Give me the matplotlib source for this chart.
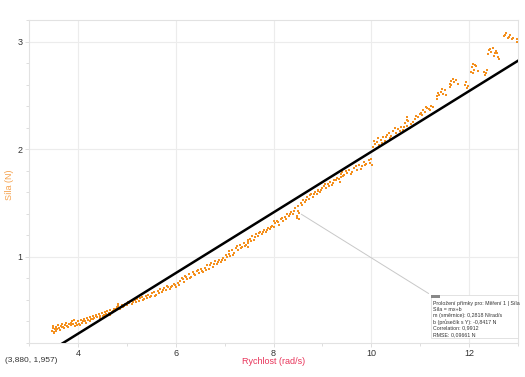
import matplotlib
matplotlib.use("Agg")
import matplotlib.pyplot as plt
from matplotlib.ticker import MultipleLocator

plt.rcParams['font.family'] = ['Liberation Sans', 'DejaVu Sans']

# ---- data ----
speed = [
    3.48, 3.49, 3.50, 3.51, 3.53, 3.56, 3.60, 3.62, 3.65, 3.68, 3.70, 3.73, 3.76, 3.78, 3.82, 3.85, 3.88, 3.91, 3.94, 3.97, 4.00, 4.03,
    4.06, 4.09, 4.12, 4.15, 4.18, 4.21, 4.24, 4.27, 4.30, 4.33, 4.36, 4.40, 4.43, 4.46, 4.50, 4.53, 4.56, 4.60, 4.63, 4.66, 4.70, 4.73, 4.76, 4.80, 4.83, 4.86, 4.90, 4.93, 4.96, 5.00,
    5.04, 5.08, 5.12, 5.16, 5.20, 5.24, 5.28, 5.32, 5.36, 5.40, 5.44, 5.48, 5.52, 5.56, 5.60, 5.64, 5.68, 5.72, 5.76, 5.80, 5.84, 5.88, 5.92, 5.96, 6.00,
    6.04, 6.08, 6.12, 6.16, 6.20, 6.24, 6.28, 6.32, 6.36, 6.40, 6.44, 6.48, 6.52, 6.56, 6.60, 6.64, 6.68, 6.72, 6.76, 6.80, 6.84, 6.88, 6.92, 6.96, 7.00,
    7.04, 7.08, 7.12, 7.16, 7.20, 7.24, 7.28, 7.32, 7.36, 7.40, 7.44, 7.48, 7.52, 7.56, 7.60, 7.64, 7.68, 7.72, 7.76, 7.80, 7.84, 7.88, 7.92, 7.96, 8.00,
    8.04, 8.08, 8.12, 8.16, 8.20, 8.24, 8.28, 8.32, 8.36, 8.40, 8.44, 8.48, 8.50, 8.51, 8.52, 8.56, 8.60, 8.64, 8.68, 8.72, 8.76, 8.80, 8.84, 8.88, 8.92, 8.96, 9.00,
    9.04, 9.08, 9.12, 9.16, 9.20, 9.24, 9.30, 9.37, 9.38, 9.39, 9.40, 9.45, 9.50, 9.55, 9.60, 9.65, 9.70, 9.75, 9.80, 9.85, 9.90, 9.95, 10.00,
    10.04, 10.08, 10.12, 10.16, 10.20, 10.24, 10.28, 10.32, 10.36, 10.40, 10.45, 10.50, 10.55, 10.60, 10.64, 10.68, 10.72, 10.73, 10.74, 10.80, 10.85, 10.90, 10.95, 11.00,
    11.02, 11.06, 11.10, 11.14, 11.18, 11.22, 11.26, 11.34, 11.36, 11.38, 11.42, 11.46, 11.50, 11.52, 11.60, 11.62, 11.64, 11.70, 11.74, 11.78, 11.92, 11.95, 11.98,
    12.04, 12.06, 12.08, 12.10, 12.14, 12.18, 12.30, 12.33, 12.36, 12.38, 12.40, 12.44, 12.48, 12.52, 12.56, 12.60, 12.62, 12.72, 12.76, 12.80, 12.84, 12.88, 12.97, 12.98,
]
force = [
    0.31, 0.34, 0.36, 0.30, 0.33, 0.35, 0.37, 0.34, 0.36, 0.38, 0.35, 0.37, 0.39, 0.36, 0.38, 0.37, 0.40, 0.38, 0.36, 0.39, 0.40, 0.38,
    0.41, 0.39, 0.42, 0.40, 0.43, 0.41, 0.44, 0.42, 0.45, 0.43, 0.46, 0.44, 0.47, 0.45, 0.48, 0.46, 0.49, 0.50, 0.48, 0.51, 0.49, 0.52, 0.50, 0.53, 0.54, 0.52, 0.55, 0.53, 0.56, 0.55,
    0.57, 0.59, 0.58, 0.60, 0.61, 0.59, 0.62, 0.63, 0.61, 0.64, 0.65, 0.63, 0.66, 0.67, 0.65, 0.68, 0.70, 0.67, 0.71, 0.69, 0.72, 0.70, 0.73, 0.75, 0.72,
    0.76, 0.78, 0.80, 0.77, 0.82, 0.79, 0.84, 0.81, 0.86, 0.83, 0.87, 0.85, 0.89, 0.86, 0.90, 0.92, 0.89, 0.94, 0.91, 0.96, 0.93, 0.97, 0.95, 0.99, 0.97,
    1.00, 1.03, 1.01, 1.06, 1.04, 1.08, 1.06, 1.11, 1.09, 1.13, 1.11, 1.15, 1.17, 1.19, 1.16, 1.21, 1.19, 1.23, 1.21, 1.25, 1.23, 1.27, 1.26, 1.29, 1.28,
    1.31, 1.33, 1.30, 1.35, 1.33, 1.37, 1.40, 1.38, 1.42, 1.40, 1.45, 1.38, 1.43, 1.47, 1.35, 1.50, 1.53, 1.51, 1.56, 1.54, 1.58, 1.56, 1.60, 1.58, 1.62, 1.60, 1.64,
    1.66, 1.64, 1.68, 1.70, 1.67, 1.71, 1.73, 1.70, 1.74, 1.77, 1.79, 1.76, 1.78, 1.81, 1.79, 1.83, 1.81, 1.85, 1.84, 1.88, 1.86, 1.90, 1.91,
    2.02, 2.05, 2.07, 2.04, 2.09, 2.11, 2.08, 2.13, 2.15, 2.12, 2.17, 2.15, 2.19, 2.21, 2.18, 2.24, 2.27, 2.30, 2.22, 2.20, 2.25, 2.28, 2.30, 2.33,
    2.34, 2.36, 2.35, 2.38, 2.37, 2.40, 2.39, 2.47, 2.52, 2.50, 2.53, 2.51, 2.55, 2.50, 2.61, 2.63, 2.60, 2.62, 2.64, 2.61, 2.60, 2.57, 2.59,
    2.72, 2.76, 2.79, 2.74, 2.77, 2.73, 2.72, 2.69, 2.74, 2.88, 2.92, 2.90, 2.94, 2.89, 2.91, 2.86, 2.84, 3.05, 3.08, 3.03, 3.06, 3.02, 3.02, 3.00,
]
# second pass of samples (the thicker part of the band)
speed_b = [
    3.52, 3.55, 3.58, 3.63, 3.67, 3.72, 3.80, 3.86, 3.92, 3.99, 4.05, 4.11, 4.17, 4.25, 4.31, 4.38, 4.45, 4.52, 4.58, 4.65,
    4.72, 4.78, 4.82, 4.88, 4.95, 5.02, 5.10, 5.18, 5.26, 5.34, 5.42, 5.50, 5.58, 5.66, 5.74, 5.82, 5.90, 5.98, 6.06, 6.14,
    6.22, 6.30, 6.38, 6.46, 6.54, 6.62, 6.70, 6.78, 6.86, 6.94, 7.02, 7.10, 7.18, 7.26, 7.34, 7.42, 7.47, 7.47, 7.47, 7.54,
    7.62, 7.70, 7.78, 7.86, 7.94, 8.02, 8.10, 8.18, 8.26, 8.34, 8.42, 8.49, 8.53, 8.58, 8.66, 8.74, 8.82, 8.90, 8.98, 9.06,
    9.14, 9.22, 9.28, 9.34, 9.42, 9.48, 9.58, 9.68, 9.78, 9.88, 9.97, 10.02, 10.06, 10.14, 10.22, 10.30, 10.38, 10.48, 10.58, 10.66,
    10.76, 10.82, 10.92, 11.04, 11.12, 11.20, 11.35, 11.44, 11.61, 11.68, 11.94, 12.07, 12.12, 12.34, 12.42, 12.50, 12.58, 12.74, 12.82, 12.90,
]
force_b = [
    0.29, 0.31, 0.33, 0.32, 0.35, 0.34, 0.35, 0.39, 0.41, 0.37, 0.37, 0.40, 0.39, 0.40, 0.42, 0.45, 0.43, 0.45, 0.47, 0.46,
    0.50, 0.52, 0.56, 0.53, 0.54, 0.58, 0.56, 0.58, 0.62, 0.60, 0.62, 0.64, 0.64, 0.66, 0.69, 0.73, 0.72, 0.74, 0.74, 0.79,
    0.81, 0.80, 0.84, 0.88, 0.87, 0.88, 0.92, 0.93, 0.95, 0.97, 1.02, 1.05, 1.02, 1.10, 1.08, 1.10, 1.09, 1.13, 1.16, 1.15,
    1.18, 1.22, 1.23, 1.25, 1.28, 1.33, 1.32, 1.36, 1.35, 1.40, 1.43, 1.36, 1.41, 1.48, 1.53, 1.57, 1.58, 1.61, 1.62, 1.68,
    1.66, 1.69, 1.71, 1.72, 1.75, 1.80, 1.77, 1.84, 1.82, 1.85, 1.87, 1.85, 2.08, 2.10, 2.06, 2.11, 2.10, 2.20, 2.17, 2.21,
    2.26, 2.23, 2.31, 2.32, 2.39, 2.36, 2.49, 2.56, 2.58, 2.65, 2.62, 2.71, 2.78, 2.71, 2.93, 2.87, 2.89, 3.06, 3.04, 3.03,
]

slope = 0.2818
intercept = -0.8417
x_range = [3.0, 13.0]
y_range = [0.2, 3.2]
x_ticks = [4, 6, 8, 10, 12]
y_ticks = [1, 2, 3]
fit_lines = [
    "Proložení přímky pro: Měření 1 | Síla",
    "Síla = mx+b",
    "m (směrnice): 0,2818 N/rad/s",
    "b (průsečík s Y): -0,8417 N",
    "Correlation: 0,9912",
    "RMSE: 0,09661 N",
]
anchor_point = (8.52, 1.41)

fig = plt.figure(figsize=(5.25, 3.77), dpi=100)
ax = fig.add_axes([29/525, 34/377, 489/525, 323/377])

ax.set_xlim(*x_range)
ax.set_ylim(*y_range)
ax.set_xticks(x_ticks)
ax.set_yticks(y_ticks)
ax.xaxis.set_minor_locator(MultipleLocator(1))
ax.yaxis.set_minor_locator(MultipleLocator(0.2))
ax.grid(True, which='major', color='#ececec', linewidth=0.8)
ax.set_axisbelow(True)
for s in ax.spines.values():
    s.set_color('#e2e2e2')
    s.set_linewidth(0.8)
ax.tick_params(which='both', colors='#d8d8d8', labelcolor='#333333', labelsize=6.5, length=3, width=0.6)
ax.tick_params(which='minor', length=2)
ax.tick_params(axis='x', which='major', pad=1.5)
ax.tick_params(axis='y', which='major', pad=1.5)

ax.scatter(speed + speed_b, force + force_b, s=3.5, color='#F4901E', marker='s', linewidths=0, zorder=3)

lx = list(x_range)
ly = [slope * v + intercept for v in lx]
ax.plot(lx, ly, color='black', linewidth=1.8, zorder=4)

ax.set_xlabel('Rychlost (rad/s)', color='#E8345A', fontsize=6.5)
ax.xaxis.set_label_coords(0.5, -0.043)
ax.set_ylabel('Síla (N)', color='#F5A04A', fontsize=6.5, va='center')
ax.yaxis.set_label_coords(-0.039, 0.49)

# annotation box
bx0, by0, bx1, by1 = 431/525, (377-338)/377, 518/525, (377-295)/377
box = plt.Rectangle((bx0, by0), bx1 - bx0, by1 - by0, transform=fig.transFigure,
                    facecolor='white', edgecolor='#dddddd', linewidth=0.6, zorder=5)
fig.add_artist(box)
tag = plt.Rectangle((bx0, by1 - 3/377), 9/525, 3/377, transform=fig.transFigure,
                    facecolor='#888888', edgecolor='none', zorder=6)
fig.add_artist(tag)
for i, t in enumerate(fit_lines):
    fig.text(bx0 + 2/525, by1 - (8 + i * 6.3)/377, t, fontsize=3.8, color='#333333',
             va='center', ha='left', zorder=7)
ax.annotate('', xy=anchor_point, xycoords='data', xytext=(bx0, by1), textcoords='figure fraction',
            arrowprops=dict(arrowstyle='-', color='#c8c8c8', linewidth=0.7), zorder=2)

fig.text(5/525, (377-360)/377, '(3,880, 1,957)', fontsize=6, color='#333333', va='center', ha='left')

fig.savefig('out.png', dpi=100)
